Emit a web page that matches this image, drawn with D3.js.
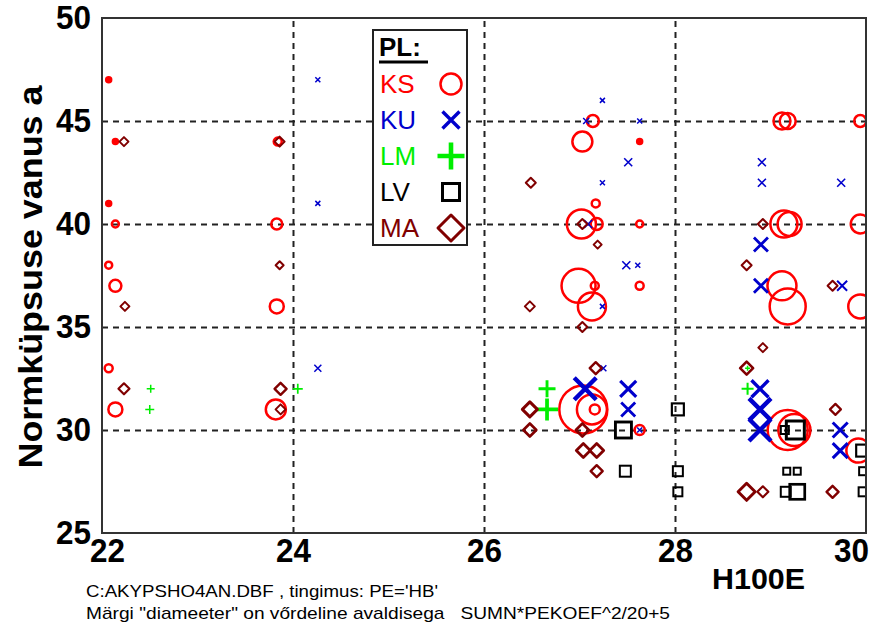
<!DOCTYPE html>
<html>
<head>
<meta charset="utf-8">
<script src="https://cdn.jsdelivr.net/npm/d3@7"></script>
<style>
  html, body { margin: 0; padding: 0; background: #fff; }
  svg { display: block; }
  text { font-family: "Liberation Sans", Arial, sans-serif; }
</style>
</head>
<body>
<svg id="chart" width="872" height="623"></svg>
<script>
// Axis ticks
const xTicks = [22, 24, 26, 28, 30];
const yTicks = [25, 30, 35, 40, 45, 50];

// Each point: [H100E, Normküpsuse vanus, marker measure SUMN*PEKOEF^2/20+5]
const ks = [
  [22.07, 47, 5], [22.14, 44, 5], [22.07, 41, 5], [22.14, 40, 7], [22.07, 38, 7],
  [22.14, 37, 12], [22.07, 33, 8], [22.14, 31, 14],
  [23.84, 44, 8], [23.83, 40, 11], [23.83, 36, 14], [23.82, 31, 20],
  [27.14, 45, 12], [27.03, 44, 20], [27.63, 44, 5], [27.17, 41, 8],
  [27.02, 40, 29], [27.18, 40, 12], [27.63, 40, 7],
  [26.99, 37, 34], [27.16, 37, 8], [27.63, 37, 8], [27.13, 36, 28],
  [27.04, 31, 48], [27.13, 31, 30], [27.16, 31, 10], [27.63, 30, 10],
  [29.12, 45, 17], [29.18, 45, 16], [29.94, 45, 12],
  [29.14, 40, 27], [29.2, 40, 24], [29.94, 40, 19],
  [29.12, 37, 29], [29.18, 36, 36], [29.94, 36, 24],
  [29.18, 30, 40], [29.25, 30, 32], [29.92, 29, 24]
];
const ku = [
  [24.26, 47, 5], [24.26, 41, 5], [24.26, 33, 7],
  [27.24, 46, 5], [27.07, 45, 6], [27.63, 45, 5], [27.51, 43, 8], [27.24, 42, 5],
  [27.09, 40, 8], [27.49, 38, 8], [27.61, 38, 5], [27.24, 36, 5], [27.25, 33, 6],
  [27.06, 32, 22], [27.51, 32, 16], [27.51, 31, 14], [27.63, 30, 5],
  [28.91, 43, 8], [28.91, 42, 8], [28.9, 39, 14], [28.9, 37, 14],
  [28.89, 32, 17], [28.89, 31, 22], [28.89, 30, 22],
  [29.74, 42, 8], [29.75, 37, 10], [29.73, 30, 15], [29.73, 29, 15]
];
const lm = [
  [22.51, 32, 8], [22.5, 31, 9], [24.05, 32, 10],
  [26.66, 32, 17], [26.66, 31, 22], [28.76, 33, 5], [28.76, 32, 12]
];
const lv = [
  [27.46, 30, 16], [27.48, 28, 11], [28.03, 31, 12], [28.03, 28, 10], [28.03, 27, 9],
  [29.15, 30, 8], [29.26, 30, 18], [29.17, 28, 7], [29.28, 28, 7],
  [29.16, 27, 10], [29.28, 27, 15], [29.96, 29, 12], [29.97, 28, 8], [29.97, 27, 9]
];
const ma = [
  [22.23, 44, 9], [22.24, 36, 9], [22.23, 32, 11],
  [23.86, 44, 10], [23.86, 38, 8], [23.87, 32, 12], [23.87, 31, 10],
  [26.49, 42, 10], [27.03, 40, 10], [27.19, 39, 8], [26.48, 36, 10], [27.03, 35, 10],
  [27.17, 33, 12], [26.48, 31, 15], [26.48, 30, 13], [27.03, 30, 13],
  [27.04, 29, 14], [27.18, 29, 14], [27.18, 28, 12],
  [28.92, 40, 10], [28.75, 38, 10], [28.92, 34, 9], [28.75, 33, 13],
  [29.65, 37, 10], [29.68, 31, 11], [28.75, 27, 17], [28.92, 27, 11], [29.65, 27, 12]
];

const series = [
  { key: "KS", data: ks, color: "#ff0000", shape: "circle" },
  { key: "KU", data: ku, color: "#0000cc", shape: "cross" },
  { key: "LM", data: lm, color: "#00ee00", shape: "plus" },
  { key: "LV", data: lv, color: "#000000", shape: "square" },
  { key: "MA", data: ma, color: "#800000", shape: "diamond" }
];

const svg = d3.select("#chart");
const plot = { left: 102, right: 866, top: 18, bottom: 533 };

const x = d3.scaleLinear().domain([22, 30]).range([plot.left, plot.right]);
const y = d3.scaleLinear().domain([25, 50]).range([plot.bottom, plot.top]);
const size = d3.scaleLinear().domain([0, 50]).range([0, 50]);

// Dashed grid lines on the interior ticks
const gx = svg.append("g")
  .attr("transform", `translate(0,${plot.bottom})`)
  .call(d3.axisBottom(x).tickValues(xTicks.slice(1, -1)).tickSize(-(plot.bottom - plot.top)).tickFormat(""));
const gy = svg.append("g")
  .attr("transform", `translate(${plot.left},0)`)
  .call(d3.axisLeft(y).tickValues(yTicks.slice(1, -1)).tickSize(-(plot.right - plot.left)).tickFormat(""));
[gx, gy].forEach(g => {
  g.select(".domain").remove();
  g.selectAll(".tick line")
    .attr("stroke", "#222")
    .attr("stroke-width", 2)
    .attr("stroke-dasharray", "6,5");
});

// Tick labels (narrow, tall bold digits)
const lx = svg.append("g")
  .attr("transform", `translate(0,${plot.bottom})`)
  .call(d3.axisBottom(x).tickValues(xTicks).tickSize(0).tickPadding(6).tickFormat(d3.format("d")));
lx.select(".domain").remove();
lx.selectAll("text")
  .attr("font-family", "Liberation Sans, Arial, sans-serif")
  .attr("font-size", 33).attr("font-weight", "bold").attr("fill", "#000")
  .attr("textLength", 35).attr("lengthAdjust", "spacingAndGlyphs")
  .attr("dy", "0.71em")
  .attr("x", d => d === 22 ? 5 : (d === 30 ? -15 : 0));

const ly = svg.append("g")
  .attr("transform", `translate(${plot.left},0)`)
  .call(d3.axisLeft(y).tickValues(yTicks).tickSize(0).tickPadding(11).tickFormat(d3.format("d")));
ly.select(".domain").remove();
ly.selectAll("text")
  .attr("font-family", "Liberation Sans, Arial, sans-serif")
  .attr("font-size", 33).attr("font-weight", "bold").attr("fill", "#000")
  .attr("textLength", 35).attr("lengthAdjust", "spacingAndGlyphs");

// Markers
function drawMarker(g, shape, color, cx, cy, s) {
  if (shape === "circle") {
    g.append("circle").attr("cx", cx).attr("cy", cy).attr("r", s / 2)
      .attr("fill", s < 7 ? color : "none").attr("stroke", color).attr("stroke-width", 2.5);
  } else if (shape === "cross") {
    const h = s / 2, p = d3.path();
    p.moveTo(cx - h, cy - h); p.lineTo(cx + h, cy + h);
    p.moveTo(cx + h, cy - h); p.lineTo(cx - h, cy + h);
    g.append("path").attr("d", p.toString()).attr("fill", "none")
      .attr("stroke", color).attr("stroke-width", Math.max(1.5, s * 0.2));
  } else if (shape === "plus") {
    const h = s / 2, p = d3.path();
    p.moveTo(cx - h, cy); p.lineTo(cx + h, cy);
    p.moveTo(cx, cy - h); p.lineTo(cx, cy + h);
    g.append("path").attr("d", p.toString()).attr("fill", "none")
      .attr("stroke", color).attr("stroke-width", Math.max(1.5, s * 0.17));
  } else if (shape === "square") {
    g.append("rect").attr("x", cx - s / 2).attr("y", cy - s / 2)
      .attr("width", s).attr("height", s)
      .attr("fill", "none").attr("stroke", color).attr("stroke-width", Math.min(3, Math.max(2, s * 0.18)));
  } else if (shape === "diamond") {
    const h = s / 2, p = d3.path();
    p.moveTo(cx, cy - h); p.lineTo(cx + h, cy); p.lineTo(cx, cy + h); p.lineTo(cx - h, cy); p.closePath();
    g.append("path").attr("d", p.toString()).attr("fill", "none")
      .attr("stroke", color).attr("stroke-width", Math.min(3, Math.max(2, s * 0.2)))
      .attr("stroke-linejoin", "round");
  }
}

svg.append("clipPath").attr("id", "plotClip").append("rect")
  .attr("x", plot.left).attr("y", plot.top)
  .attr("width", plot.right - plot.left).attr("height", plot.bottom - plot.top);

const marks = svg.append("g").attr("clip-path", "url(#plotClip)");
series.forEach(sr => {
  const g = marks.append("g").attr("class", "series-" + sr.key);
  sr.data.forEach(d => drawMarker(g, sr.shape, sr.color, x(d[0]), y(d[1]), size(d[2])));
});

// Plot frame
svg.append("rect")
  .attr("x", plot.left).attr("y", plot.top)
  .attr("width", plot.right - plot.left).attr("height", plot.bottom - plot.top)
  .attr("fill", "none").attr("stroke", "#333").attr("stroke-width", 2);

// Legend
const lg = svg.append("g");
lg.append("rect").attr("x", 373).attr("y", 30).attr("width", 94).attr("height", 215)
  .attr("fill", "#fff").attr("stroke", "#222").attr("stroke-width", 2);
lg.append("text").attr("x", 379).attr("y", 56).text("PL:")
  .attr("font-size", 26).attr("font-weight", "bold").attr("fill", "#000");
lg.append("line").attr("x1", 379).attr("x2", 428).attr("y1", 62).attr("y2", 62)
  .attr("stroke", "#000").attr("stroke-width", 3);
const legendSizes = { circle: 21, cross: 17, plus: 27, square: 17, diamond: 26 };
series.forEach((sr, i) => {
  const cy = 84 + i * 36;
  lg.append("text").attr("x", 380).attr("y", cy + 9).text(sr.key)
    .attr("font-size", 26).attr("fill", sr.color);
  drawMarker(lg, sr.shape, sr.color, 451, cy, legendSizes[sr.shape]);
});

// Axis titles and notes
svg.append("text")
  .attr("transform", "translate(42,277) rotate(-90)")
  .attr("text-anchor", "middle")
  .attr("font-size", 34).attr("font-weight", "bold").attr("fill", "#000")
  .attr("textLength", 383).attr("lengthAdjust", "spacingAndGlyphs")
  .text("Normküpsuse vanus a");

svg.append("text").attr("x", 712).attr("y", 589)
  .attr("font-size", 30).attr("font-weight", "bold").attr("fill", "#000")
  .attr("textLength", 93).attr("lengthAdjust", "spacingAndGlyphs")
  .text("H100E");

svg.append("text").attr("x", 86).attr("y", 597)
  .attr("font-size", 17).attr("fill", "#000")
  .attr("textLength", 352).attr("lengthAdjust", "spacingAndGlyphs")
  .text("C:AKYPSHO4AN.DBF , tingimus: PE='HB'");

svg.append("text").attr("x", 86).attr("y", 619)
  .attr("font-size", 17).attr("fill", "#000")
  .attr("textLength", 584).attr("lengthAdjust", "spacingAndGlyphs")
  .attr("xml:space", "preserve")
  .text("Märgi \"diameeter\" on vőrdeline avaldisega   SUMN*PEKOEF^2/20+5");
</script>
</body>
</html>
